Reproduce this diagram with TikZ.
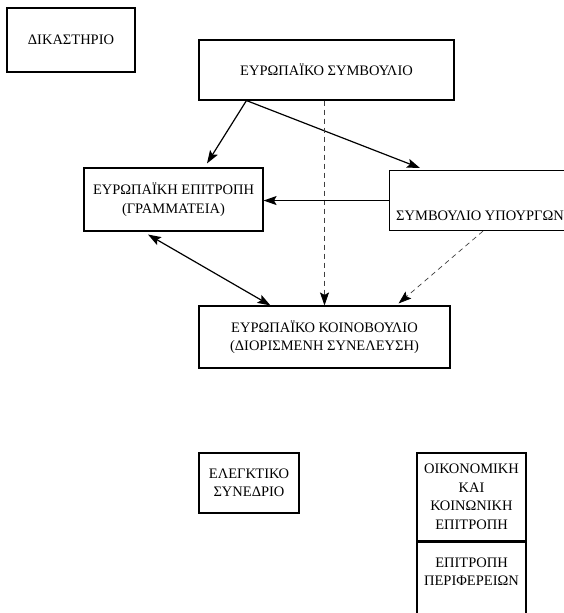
\documentclass[tikz,border=0pt]{standalone}
\usepackage{fontspec}
\setmainfont{Liberation Serif}
\usetikzlibrary{arrows.meta,calc}
\begin{document}
\begin{tikzpicture}[x=1pt,y=-1pt,
  box/.style={draw, line width=1.1pt, inner sep=0pt, align=center,
    font=\fontsize{14.5}{18.5}\selectfont},
  txt/.style={inner sep=0pt, font=\fontsize{14.5}{18.5}\selectfont},
  arr/.style={line width=1.2pt, -{Stealth[length=13pt,width=9pt,inset=2.5pt]}},
  darr/.style={line width=1.2pt, {Stealth[length=13pt,width=9pt,inset=2.5pt]}-{Stealth[length=13pt,width=9pt,inset=2.5pt]}},
  dash arr/.style={line width=0.7pt, black!75, dash pattern=on 5pt off 4pt,
    -{Stealth[length=13pt,width=9pt,inset=2.5pt,color=black]}}]
\useasboundingbox (0,0) rectangle (564,613);
\fill[white] (0,0) rectangle (564,613);

\node[box, minimum width=128pt, minimum height=64pt] (court) at (71,40) {ΔΙΚΑΣΤΗΡΙΟ};
\node[box, minimum width=255pt, minimum height=60pt] (es) at (326.5,70) {ΕΥΡΩΠΑΪΚΟ ΣΥΜΒΟΥΛΙΟ};
\node[box, minimum width=179pt, minimum height=63pt] (comm) at (173.5,199.5) {ΕΥΡΩΠΑΪΚΗ ΕΠΙΤΡΟΠΗ\\(ΓΡΑΜΜΑΤΕΙΑ)};
\node[draw, line width=1.1pt, inner sep=0pt, minimum width=200pt, minimum height=60pt, anchor=north west] (council) at (389,170) {};
\node[txt, anchor=west] (councilt) at (396,216) {ΣΥΜΒΟΥΛΙΟ ΥΠΟΥΡΓΩΝ};
\node[box, minimum width=251pt, minimum height=62pt] (ep) at (324.5,337) {ΕΥΡΩΠΑΪΚΟ ΚΟΙΝΟΒΟΥΛΙΟ\\(ΔΙΟΡΙΣΜΕΝΗ ΣΥΝΕΛΕΥΣΗ)};
\node[box, minimum width=100pt, minimum height=60pt] (audit) at (249,483) {ΕΛΕΓΚΤΙΚΟ\\ΣΥΝΕΔΡΙΟ};
\node[box, minimum width=109pt, minimum height=88pt] (ecosoc) at (471.5,497) {ΟΙΚΟΝΟΜΙΚΗ\\ΚΑΙ\\ΚΟΙΝΩΝΙΚΗ\\ΕΠΙΤΡΟΠΗ};
\node[draw, line width=1.1pt, inner sep=0pt, minimum width=109pt, minimum height=90pt, anchor=north] (regions) at (ecosoc.south) {};
\node[txt, align=center] (regionst) at (471.5,571.5) {ΕΠΙΤΡΟΠΗ\\ΠΕΡΙΦΕΡΕΙΩΝ};

\draw[arr] ([xshift=48pt]es.south west) -- ([xshift=33.5pt,yshift=4pt]comm.north);
\draw[arr] ([xshift=48pt]es.south west) -- ([xshift=31pt,yshift=2pt]council.north west);
\draw[dash arr] (es.south -| ep.north) -- (ep.north);
\draw[arr] (council.west) -- (council.west -| comm.east);
\draw[darr] ([xshift=-25.5pt,yshift=-3pt]comm.south) -- ([xshift=-54pt]ep.north);
\draw[dash arr] ([xshift=94pt]council.south west) -- ([xshift=-52pt,yshift=2pt]ep.north east);
\end{tikzpicture}
\end{document}
